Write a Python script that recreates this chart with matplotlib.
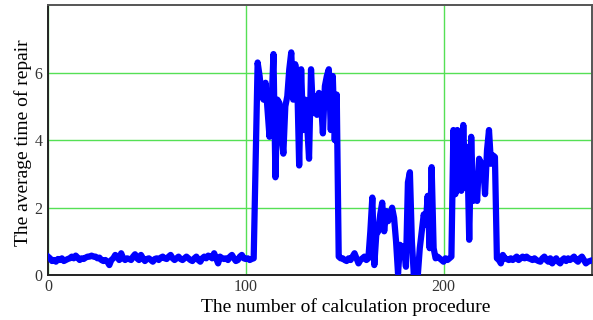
import numpy as np
import matplotlib
matplotlib.use("Agg")
import matplotlib.pyplot as plt

# average repair time per calculation step
low_start = [0.55, 0.5, 0.42, 0.45, 0.4, 0.48, 0.45, 0.5, 0.42, 0.45,
             0.48, 0.5, 0.55, 0.5, 0.58, 0.52, 0.45, 0.5, 0.48, 0.52,
             0.55, 0.55, 0.58, 0.55, 0.55, 0.5, 0.52, 0.45, 0.42, 0.45,
             0.4, 0.3, 0.45, 0.5, 0.6, 0.55, 0.45, 0.65, 0.5, 0.45,
             0.5, 0.48, 0.45, 0.55, 0.62, 0.5, 0.45, 0.6, 0.5, 0.42,
             0.48, 0.5, 0.45, 0.4, 0.48, 0.5, 0.45, 0.52, 0.55, 0.5,
             0.48, 0.55, 0.6, 0.5, 0.45, 0.5, 0.55, 0.48, 0.45, 0.5,
             0.55, 0.5, 0.45, 0.42, 0.5, 0.55, 0.45, 0.4, 0.5, 0.55,
             0.5, 0.58, 0.55, 0.5, 0.65, 0.5, 0.35, 0.55, 0.5, 0.48,
             0.5, 0.45, 0.55, 0.6, 0.5, 0.42, 0.45, 0.55, 0.6, 0.5,
             0.48, 0.5, 0.45, 0.48, 0.5]
high_block = [3.4, 6.3, 5.9, 5.3, 5.2, 5.7, 4.9, 4.1, 5.0, 6.55,
              2.9, 5.2, 5.1, 4.2, 3.6, 5.0, 5.3, 6.1, 6.6, 5.2,
              6.25, 5.8, 3.25, 6.1, 4.3, 5.2, 4.5, 3.45, 6.1, 4.8,
              5.3, 4.75, 5.4, 5.2, 4.2, 5.6, 5.9, 6.1, 4.3, 5.9,
              4.0, 5.35]
mid_low = [0.55, 0.5, 0.5, 0.45, 0.42, 0.5, 0.45, 0.55, 0.65, 0.5,
           0.35, 0.45, 0.5, 0.55, 0.45, 0.5]
spiky = [1.3, 2.3, 0.3, 1.2, 1.3, 1.8, 2.15, 1.3, 1.9, 1.6,
         1.8, 2.0, 1.7, 1.0, 0.05, 0.9, 0.8, 0.85, 0.25, 2.75,
         3.05, 1.0, 0.0, 0.4, 0.0, 0.8, 1.3, 1.8, 1.5, 2.35,
         0.8, 3.2, 0.8, 0.5, 0.55, 0.5, 0.45, 0.4, 0.5, 0.45,
         0.5, 0.55]
second_block = [4.3, 2.4, 4.3, 3.8, 2.5, 4.45, 2.6, 3.8, 1.05, 4.1,
                2.2, 2.8, 2.2, 3.45, 3.3, 3.3, 2.4, 3.7, 4.3, 3.3,
                3.55, 3.5]
low_end = [0.5, 0.45, 0.35, 0.6, 0.5, 0.48, 0.45, 0.5, 0.45, 0.5,
           0.55, 0.45, 0.5, 0.55, 0.5, 0.55, 0.5, 0.48, 0.45, 0.5,
           0.45, 0.42, 0.4, 0.5, 0.55, 0.45, 0.4, 0.5, 0.35, 0.45,
           0.5, 0.4, 0.35, 0.45, 0.5, 0.42, 0.5, 0.45, 0.5, 0.55,
           0.45, 0.4, 0.5, 0.55, 0.45, 0.35, 0.4, 0.42]

y = np.array(low_start + high_block + mid_low + spiky + second_block + low_end)
x = np.arange(len(y))

x_ticks = [0, 100, 200]
y_ticks = [0, 2, 4, 6]

plt.rcParams['font.family'] = ['Liberation Serif', 'DejaVu Serif']

fig = plt.figure(figsize=(5.93, 3.2), dpi=100)
ax = fig.add_axes([0.081, 0.14, 0.917, 0.844])

ax.plot(x, y, color='#0000ff', linewidth=4.5, solid_joinstyle='round', zorder=3)

ax.set_xlim(0, 275)
ax.set_ylim(0, 8)
ax.set_xticks(x_ticks)
ax.set_yticks(y_ticks)
ax.tick_params(length=0, labelsize=11.5, labelcolor='#333333')
ax.tick_params(axis='x', pad=3)
ax.tick_params(axis='y', pad=4)
ax.grid(True, color='#55e055', linewidth=1.0, zorder=1)

for s in ax.spines.values():
    s.set_linewidth(1.4)
    s.set_color('#222222')
ax.spines['top'].set_color('#555555')
ax.spines['right'].set_color('#555555')

ax.set_xlabel('The number of calculation procedure', fontsize=14)
ax.set_ylabel('The average time of repair', fontsize=14)
ax.xaxis.set_label_coords(0.548, -0.085)
ax.yaxis.set_label_coords(-0.03, 0.49)

fig.savefig('out.png', dpi=100)
